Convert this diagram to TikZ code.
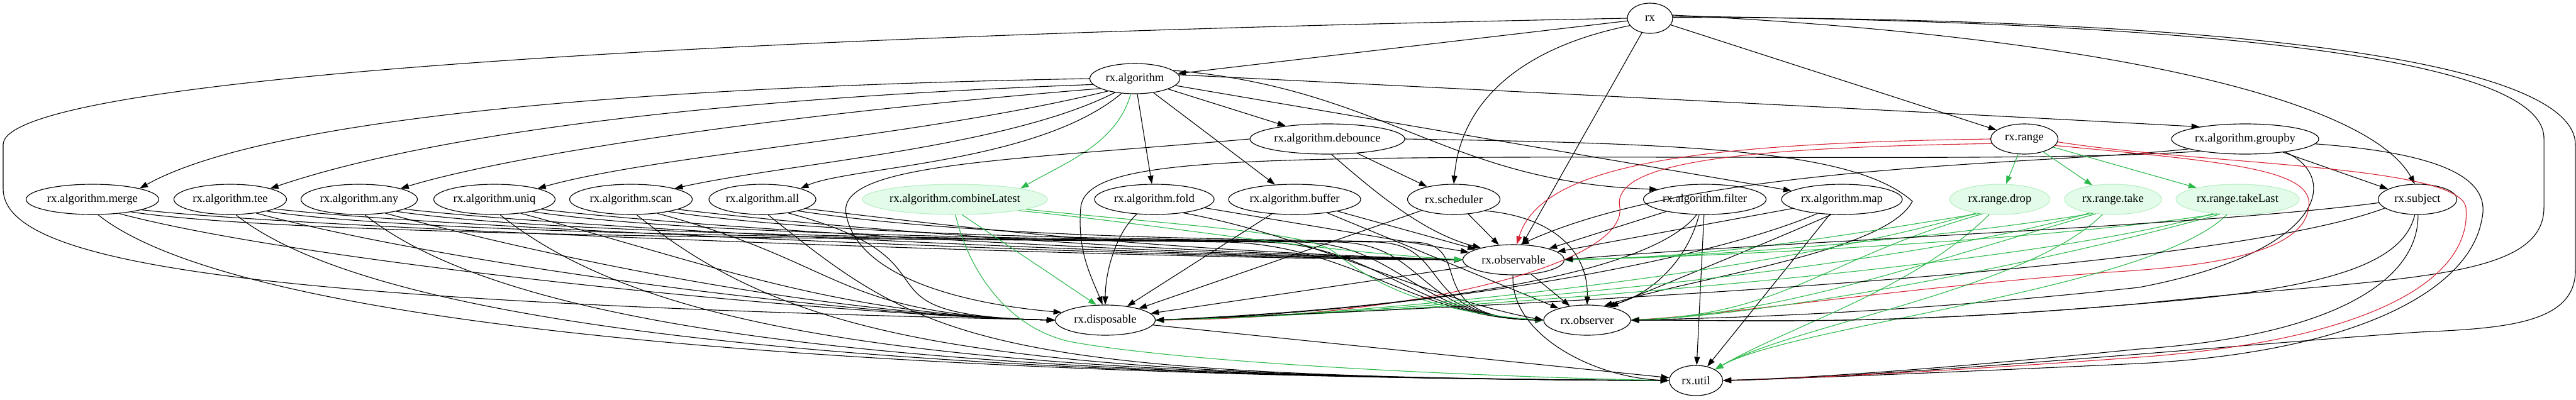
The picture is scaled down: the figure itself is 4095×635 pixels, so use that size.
\documentclass[tikz,border=0pt]{standalone}
\usepackage{fontspec}
\setmainfont{Liberation Serif}
\usetikzlibrary{shapes.geometric,arrows.meta}
\definecolor{gline}{RGB}{44,184,74}
\definecolor{rline}{RGB}{214,36,52}
\definecolor{gfill}{RGB}{226,252,233}
\definecolor{gdraw}{RGB}{186,238,198}
\begin{document}
\begin{tikzpicture}[x=1pt,y=-1pt,
  nd/.style={ellipse,draw,line width=1.15pt,inner sep=0pt,minimum height=48pt,font=\fontsize{18.7}{22}\selectfont},
  gn/.style={nd,draw=gdraw,fill=gfill},
  ed/.style={line width=1.1pt,-{Triangle[length=13pt,width=9pt]}},
  ge/.style={ed,color=gline},
  re/.style={ed,color=rline}]
\useasboundingbox (0,0) rectangle (4095,635);
% nodes
\node[nd,minimum width=72pt] (rx) at (2623,29) {rx};
\node[nd,minimum width=143pt] (alg) at (1804,125) {rx.algorithm};
\node[nd,minimum width=246pt] (deb) at (2110,221) {rx.algorithm.debounce};
\node[nd,minimum width=107pt] (rng) at (3218,221) {rx.range};
\node[nd,minimum width=234pt] (grp) at (3569,221) {rx.algorithm.groupby};
\node[nd,minimum width=211pt] (merge) at (147,317) {rx.algorithm.merge};
\node[nd,minimum width=179pt] (tee) at (366,317) {rx.algorithm.tee};
\node[nd,minimum width=185pt] (any) at (571,317) {rx.algorithm.any};
\node[nd,minimum width=193pt] (uniq) at (786,317) {rx.algorithm.uniq};
\node[nd,minimum width=195pt] (scan) at (1003,317) {rx.algorithm.scan};
\node[nd,minimum width=170pt] (all) at (1212,317) {rx.algorithm.all};
\node[gn,minimum width=294pt] (comb) at (1518,317) {rx.algorithm.combineLatest};
\node[nd,minimum width=190pt] (fold) at (1835,317) {rx.algorithm.fold};
\node[nd,minimum width=210pt] (buf) at (2058,317) {rx.algorithm.buffer};
\node[nd,minimum width=147pt] (sch) at (2311,317) {rx.scheduler};
\node[nd,minimum width=195pt] (filt) at (2710,317) {rx.algorithm.filter};
\node[nd,minimum width=192pt] (map) at (2928,317) {rx.algorithm.map};
\node[gn,minimum width=159pt] (drop) at (3179,317) {rx.range.drop};
\node[gn,minimum width=154pt] (take) at (3359,317) {rx.range.take};
\node[gn,minimum width=196pt] (tlast) at (3557,317) {rx.range.takeLast};
\node[nd,minimum width=125pt] (subj) at (3843,317) {rx.subject};
\node[nd,minimum width=161pt] (obs) at (2406,413) {rx.observable};
\node[nd,minimum width=159pt] (disp) at (1757,509) {rx.disposable};
\node[nd,minimum width=138pt] (obsr) at (2523,509) {rx.observer};
\node[nd,minimum width=85pt] (util) at (2696,605) {rx.util};
% rx
\draw[ed] (rx) -- (alg);
\draw[ed] (rx) -- (rng);
\draw[ed] (rx) -- (obs);
\draw[ed] (rx.200) .. controls (2420,75) and (2322,160) .. (sch.north);
\draw[ed] (rx.8) .. controls (3300,55) and (3760,150) .. (subj.100);
\draw[ed] (rx.5) .. controls (3500,35) and (4044,90) .. (4044,220) -- (4044,330) .. controls (4044,450) and (3800,440) .. (3400,483) .. controls (3000,518) and (2800,509) .. (obsr.east);
\draw[ed] (rx.2) .. controls (3650,28) and (4094,110) .. (4094,230) -- (4094,430) .. controls (4094,515) and (3980,522) .. (3846,528) .. controls (3600,545) and (3000,600) .. (util.east);
\draw[ed] (rx.west) .. controls (1000,60) and (5,130) .. (5,230) -- (5,300) .. controls (5,420) and (400,480) .. (disp.west);
% rx.algorithm
\draw[ed] (alg.west) .. controls (900,140) and (400,200) .. (merge.north east);
\draw[ed] (alg.188) .. controls (1050,160) and (650,225) .. (tee.north east);
\draw[ed] (alg.196) .. controls (1200,185) and (800,250) .. (any.north east);
\draw[ed] (alg.205) .. controls (1450,220) and (1050,245) .. (uniq.north east);
\draw[ed] (alg.215) .. controls (1600,235) and (1250,260) .. (scan.north east);
\draw[ed] (alg.228) .. controls (1650,260) and (1350,265) .. (all.north east);
\draw[ge] (alg.255) .. controls (1775,230) and (1690,260) .. (comb.north east);
\draw[ed] (alg) -- (fold);
\draw[ed] (alg) -- (buf);
\draw[ed] (alg) -- (deb);
\draw[ed] (alg.12) .. controls (2200,140) and (2300,290) .. (filt.168);
\draw[ed] (alg) -- (map);
\draw[ed] (alg.5) .. controls (2500,150) and (3100,180) .. (grp.165);
% debounce
\draw[ed] (deb) -- (sch);
\draw[ed] (deb.-75) .. controls (2180,300) and (2260,370) .. (obs.160);
\draw[ed] (deb.west) .. controls (1600,255) and (1330,260) .. (1345,340) .. controls (1360,430) and (1500,480) .. (disp.170);
\draw[ed] (deb.east) .. controls (2700,228) and (2950,240) .. (3040,320) .. controls (3000,400) and (2700,440) .. (obsr.40);
% groupby
\draw[ed] (grp) -- (subj);
\draw[ed] (grp.195) .. controls (3300,255) and (2900,249) .. (2400,250) .. controls (1900,252) and (1725,262) .. (1718,330) .. controls (1712,400) and (1735,440) .. (disp.100);
\draw[ed] (grp.190) .. controls (3250,262) and (2700,260) .. (obs.65);
\draw[ed] (grp.-18) .. controls (3720,280) and (3700,400) .. (3400,457) .. controls (3000,500) and (2750,505) .. (obsr.east);
\draw[ed] (grp.-4) .. controls (3900,245) and (3960,290) .. (3945,350) .. controls (3925,460) and (3750,560) .. (3400,578) .. controls (3100,592) and (2900,600) .. (util.east);
% range
\draw[ge] (rng) -- (drop);
\draw[ge] (rng) -- (take);
\draw[ge] (rng) -- (tlast);
\draw[re] (rng.west) .. controls (2700,228) and (2450,260) .. (obs.78);
\draw[re] (rng.188) .. controls (2750,235) and (2560,260) .. (2575,330) .. controls (2585,420) and (2250,505) .. (disp.east);
\draw[re] (rng.-12) .. controls (3550,258) and (3680,270) .. (3670,330) .. controls (3660,410) and (3480,425) .. (3350,433) .. controls (3000,460) and (2750,500) .. (obsr.east);
\draw[re] (rng.-5) .. controls (3500,262) and (3910,262) .. (3920,330) .. controls (3930,440) and (3780,540) .. (3400,568) .. controls (3100,590) and (2900,600) .. (util.east);
% left row
\foreach \s/\i in {merge/0,tee/1,any/2,uniq/3,scan/4,all/5}{
  \draw[ed] (\s.-12) .. controls +(250,30) and +(-500,-3*\i) .. (obs.west);
  \draw[ed] (\s.-18) .. controls +(300,45) and (1700+60*\i,380) .. (1950+60*\i,385) .. controls (2150+40*\i,390) and (2250,505) .. (obsr.west);
  \draw[ed] (\s.-28) .. controls +(300,80) and +(-350,-8) .. (disp.west);
  \draw[ed] (\s.-70) .. controls +(250,200) and +(-1100,-5) .. (util.west);
}
% combineLatest
\draw[ge] (comb.-10) .. controls +(250,25) and +(-250,-15) .. (obs.west);
\draw[ge] (comb.-8) .. controls (1900,360) and (2080,370) .. (2120,400) .. controls (2170,440) and (2250,495) .. (obsr.west);
\draw[ge] (comb.-65) -- (disp.120);
\draw[ge] (comb.-88) .. controls (1540,430) and (1600,520) .. (1700,543) .. controls (1900,580) and (2400,600) .. (util.west);
% fold, buffer, scheduler
\draw[ed] (fold.-140) .. controls (1775,370) and (1757,430) .. (disp.north);
\draw[ed] (fold) -- (obs);
\draw[ed] (fold.-25) .. controls (2100,380) and (2250,470) .. (obsr.west);
\draw[ed] (buf) -- (disp);
\draw[ed] (buf) -- (obs);
\draw[ed] (buf) -- (obsr);
\draw[ed] (sch) -- (obs);
\draw[ed] (sch) -- (disp);
\draw[ed] (sch.-20) .. controls (2470,345) and (2525,400) .. (obsr.north);
% filter, map
\draw[ed] (filt) -- (obs);
\draw[ed] (filt.-110) .. controls (2680,420) and (2620,470) .. (obsr.35);
\draw[ed] (filt.-118) .. controls (2620,440) and (2250,490) .. (disp.east);
\draw[ed] (filt) -- (util);
\draw[ed] (map) -- (obs);
\draw[ed] (map.-125) .. controls (2800,390) and (2650,450) .. (obsr.30);
\draw[ed] (map.-150) .. controls (2700,420) and (2250,495) .. (disp.east);
\draw[ed] (map) -- (util);
% range.*
\foreach \s in {drop,take,tlast}{
  \draw[ge] (\s.-145) .. controls +(-250,40) and +(250,-5) .. (obs.east);
  \draw[ge] (\s.-140) .. controls +(-250,70) and +(250,-10) .. (obsr.east);
  \draw[ge] (\s.-150) .. controls +(-300,90) and +(400,-10) .. (disp.east);
  \draw[ge] (\s.-125) .. controls +(-120,120) and +(120,-70) .. (util.30);
}
% subject
\draw[ed] (subj.185) .. controls (3500,360) and (2800,385) .. (obs.east);
\draw[ed] (subj.195) .. controls (3500,440) and (2300,490) .. (disp.east);
\draw[ed] (subj.-100) .. controls (3820,420) and (3700,460) .. (3400,483) .. controls (3000,518) and (2800,509) .. (obsr.east);
\draw[ed] (subj.-88) .. controls (3845,450) and (3700,535) .. (3400,555) .. controls (3100,585) and (2900,600) .. (util.east);
% core
\draw[ed] (obs) -- (disp);
\draw[ed] (obs) -- (obsr);
\draw[ed] (obs.-92) .. controls (2400,530) and (2530,600) .. (util.west);
\draw[ed] (disp) -- (util);
\end{tikzpicture}
\end{document}
